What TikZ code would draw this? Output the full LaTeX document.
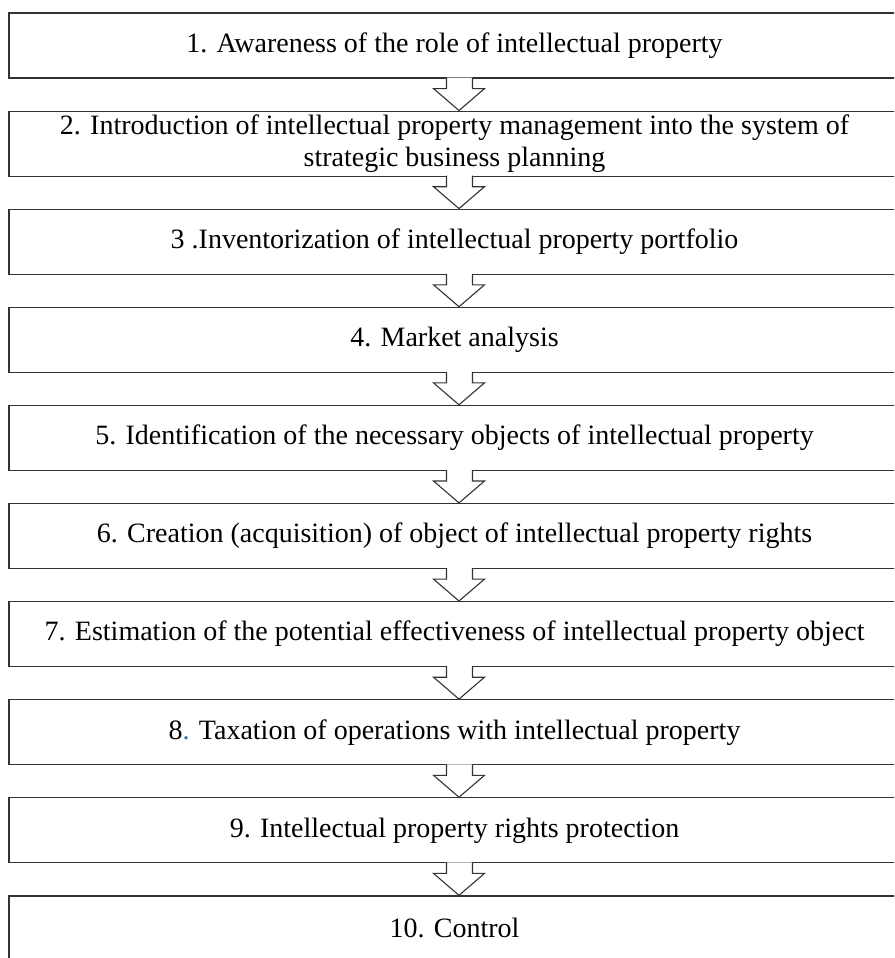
\documentclass[tikz,border=0pt]{standalone}
\usepackage{fontspec}
\setmainfont{Liberation Serif}
\usetikzlibrary{calc}

\definecolor{dotblue}{RGB}{46,117,182}
\tikzset{
	stagebox/.style={draw=black!80,line width=1.2pt,fill=white,rectangle,
		minimum width=891pt,minimum height=65pt,inner sep=0pt,align=center,
		font=\fontsize{28}{32}\selectfont},
	downarrow/.style={draw=black!80,line width=1.1pt,fill=white,line join=miter}
}

\begin{document}
\begin{tikzpicture}[x=1pt,y=1pt]
\useasboundingbox (0,0) rectangle (894,-958);
\clip (0,0) rectangle (894,-958);
\foreach \n / \t in {
								1/{1. Awareness of the role of intellectual property},
								2/{2. Introduction of intellectual property management into the system of\\strategic business planning},
								3/{3 .Inventorization of intellectual property portfolio},
								4/{4. Market analysis},
								5/{5. Identification of the necessary objects of intellectual property},
								6/{6. Creation (acquisition) of object of intellectual property rights},
								7/{7. Estimation of the potential effectiveness of intellectual property object},
								8/{8\textcolor{dotblue}{.} Taxation of operations with intellectual property},
								9/{9. Intellectual property rights protection},
								10/{10. Control}%
										}
	{%
		\node [stagebox] (box\n) at (454.5,{-45.5-98.1*(\n-1)}) {\t};
	}

\foreach \i [evaluate=\i as \j using int(\i+1)] in {1,...,9}
	{%
		\filldraw [downarrow] ([xshift=-8pt,yshift=1pt]box\i.south) -- ++(0,-11pt) -- ++(-13pt,0)
			-- ([xshift=4.5pt]box\j.north) -- ([xshift=30pt,yshift=-10pt]box\i.south)
			-- ([xshift=18pt,yshift=-10pt]box\i.south) -- ([xshift=18pt,yshift=1pt]box\i.south);
	}

\end{tikzpicture}
\end{document}
